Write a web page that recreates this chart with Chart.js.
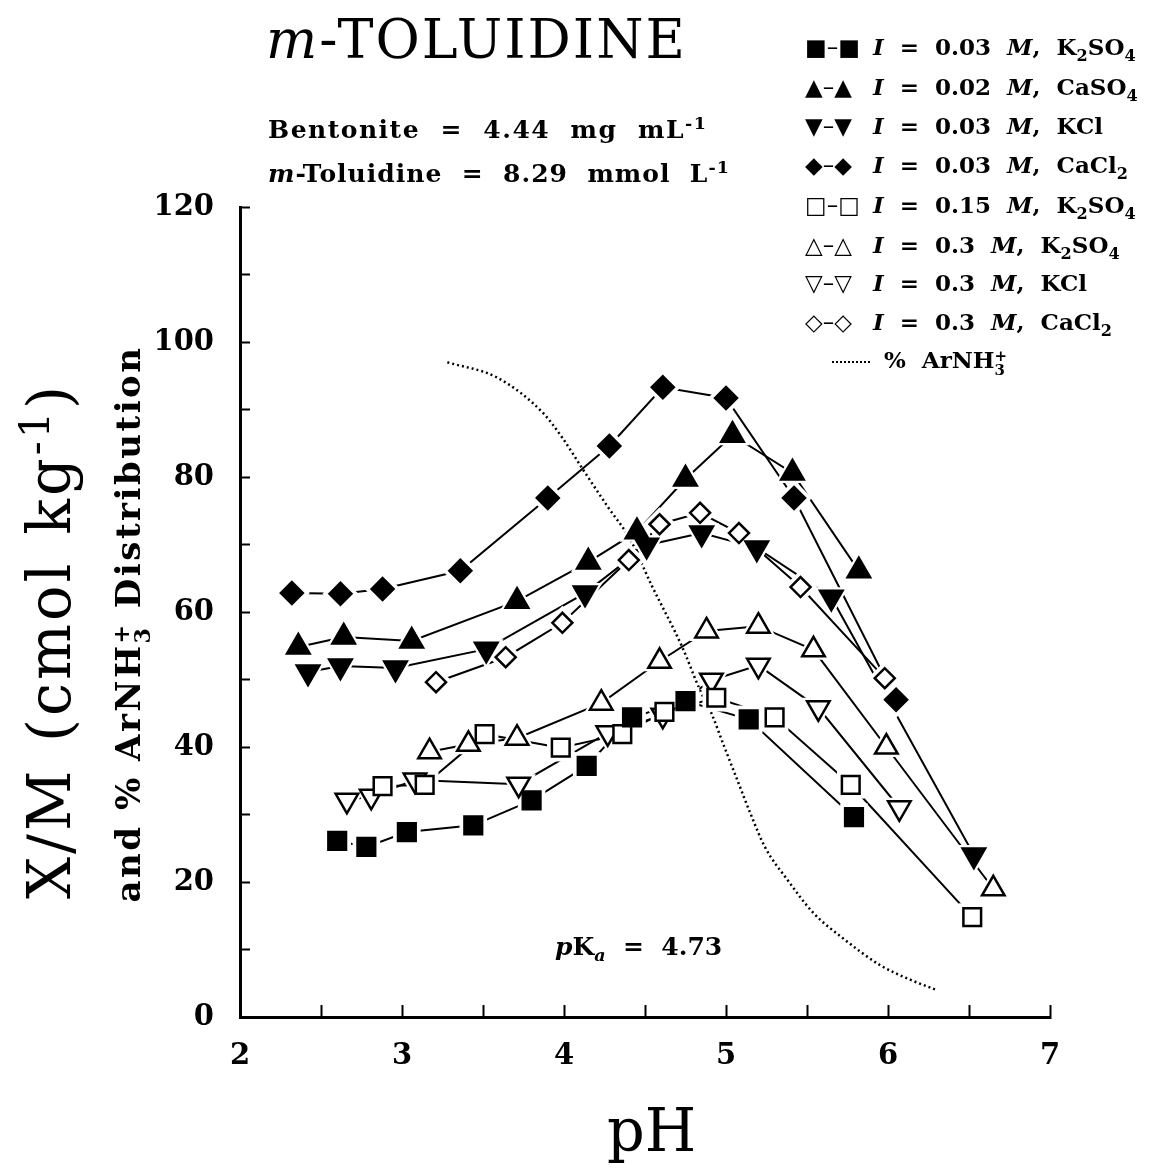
<!DOCTYPE html>
<html>
<head>
<meta charset="utf-8">
<script src="https://cdn.jsdelivr.net/npm/chart.js@4.4.1/dist/chart.umd.min.js"></script>
<style>
  html, body { margin: 0; padding: 0; background: #fff; }
  #wrap { position: relative; width: 1150px; height: 1172px; overflow: hidden; font-family: "DejaVu Serif", serif; color: #000; }
  #chartcanvas { position: absolute; left: 0; top: 0; }
  .txt { position: absolute; white-space: pre; line-height: 1; }
  .bold { font-weight: bold; }
  sub, sup { font-size: 0.7em; line-height: 0; }
  .leg { position: absolute; left: 805px; white-space: pre; font-weight: bold; font-size: 23px; line-height: 28px; height: 28px; }
  .sym { font-family: "DejaVu Sans", sans-serif; font-weight: normal; font-size: 23px; display: inline-block; width: 68px; }
  .rot { position: absolute; text-align: center; white-space: pre; transform: rotate(-90deg); }
  .dots { display: inline-block; width: 38px; border-top: 2px dotted #000; vertical-align: middle; margin: 0 14px 0 27px; }
  .stk { display: inline-block; vertical-align: -0.45em; font-size: 0.65em; line-height: 0.95em; text-align: left; }
  .stk span { display: block; }
</style>
</head>
<body>
<div id="wrap">
  <canvas id="chartcanvas" width="1150" height="1172"></canvas>

  <div class="txt" style="left:266px; top:13px; font-size:54px; letter-spacing:2px;"><i>m</i>-TOLUIDINE</div>
  <div class="txt bold" style="left:268px; top:117px; font-size:25px; letter-spacing:1.5px;">Bentonite  =  4.44  mg  mL<sup>-1</sup></div>
  <div class="txt bold" style="left:268px; top:161px; font-size:25px; letter-spacing:1px;"><i>m</i>-Toluidine  =  8.29  mmol  L<sup>-1</sup></div>

  <div class="leg" style="top:33px;"><span class="sym">■–■</span><i>I</i>  =  0.03  <i>M</i>,  K<sub>2</sub>SO<sub>4</sub></div>
  <div class="leg" style="top:73px;"><span class="sym">▲–▲</span><i>I</i>  =  0.02  <i>M</i>,  CaSO<sub>4</sub></div>
  <div class="leg" style="top:112px;"><span class="sym">▼–▼</span><i>I</i>  =  0.03  <i>M</i>,  KCl</div>
  <div class="leg" style="top:151px;"><span class="sym">◆–◆</span><i>I</i>  =  0.03  <i>M</i>,  CaCl<sub>2</sub></div>
  <div class="leg" style="top:191px;"><span class="sym">□–□</span><i>I</i>  =  0.15  <i>M</i>,  K<sub>2</sub>SO<sub>4</sub></div>
  <div class="leg" style="top:231px;"><span class="sym">△–△</span><i>I</i>  =  0.3  <i>M</i>,  K<sub>2</sub>SO<sub>4</sub></div>
  <div class="leg" style="top:269px;"><span class="sym">▽–▽</span><i>I</i>  =  0.3  <i>M</i>,  KCl</div>
  <div class="leg" style="top:308px;"><span class="sym">◇–◇</span><i>I</i>  =  0.3  <i>M</i>,  CaCl<sub>2</sub></div>
  <div class="leg" style="top:346px;"><span class="dots"></span>%  ArNH<span class="stk"><span>+</span><span>3</span></span></div>

  <div class="rot" style="left:-350px; top:606px; width:800px; height:70px; line-height:70px; font-size:59px; letter-spacing:3px; word-spacing:4px;">X/M (cmol kg<sup>-1</sup>)</div>
  <div class="rot bold" style="left:-272px; top:602px; width:800px; height:44px; line-height:44px; font-size:34px; letter-spacing:2.5px;">and % ArNH<span class="stk"><span>+</span><span>3</span></span> Distribution</div>

  <div class="txt" style="left:607px; top:1101px; font-size:59px;">pH</div>
  <div class="txt bold" style="left:555px; top:934px; font-size:25px;"><i>p</i>K<sub><i>a</i></sub>  =  4.73</div>
</div>

<script>
// pH / X/M values
const phK2SO4Low = [2.60, 2.78, 3.03, 3.44, 3.80, 4.14, 4.42, 4.75, 5.14, 5.79];
const xmK2SO4Low = [26.1, 25.2, 27.4, 28.4, 32.1, 37.2, 44.4, 46.8, 44.1, 29.6];
const phCaSO4 = [2.36, 2.64, 3.06, 3.71, 4.15, 4.45, 4.75, 5.04, 5.41, 5.82];
const xmCaSO4 = [54.8, 56.3, 55.7, 61.6, 67.4, 71.9, 79.7, 86.2, 80.6, 66.1];
const phKClLow = [2.42, 2.62, 2.96, 3.52, 4.13, 4.51, 4.85, 5.19, 5.65, 6.53];
const xmKClLow = [51.1, 52.0, 51.7, 54.5, 62.8, 69.9, 71.7, 69.5, 62.2, 24.0];
const phCaCl2Low = [2.32, 2.62, 2.88, 3.36, 3.90, 4.28, 4.61, 5.00, 5.42, 6.05];
const xmCaCl2Low = [62.8, 62.7, 63.4, 66.1, 76.9, 84.6, 93.3, 91.7, 76.9, 47.0];
const phK2SO4Mid = [2.88, 3.14, 3.51, 3.98, 4.36, 4.62, 4.94, 5.30, 5.77, 6.52];
const xmK2SO4Mid = [34.2, 34.4, 41.9, 39.9, 41.9, 45.2, 47.3, 44.4, 34.4, 14.8];
const phK2SO4High = [3.17, 3.41, 3.71, 4.23, 4.59, 4.88, 5.20, 5.54, 5.99, 6.65];
const xmK2SO4High = [39.3, 40.4, 41.3, 46.5, 52.7, 57.2, 57.9, 54.4, 40.0, 19.0];
const phKClHigh = [2.66, 2.81, 3.08, 3.72, 4.27, 4.61, 4.91, 5.20, 5.57, 6.07];
const xmKClHigh = [32.1, 32.7, 35.1, 34.5, 42.1, 44.7, 49.9, 52.1, 45.8, 31.0];
const phCaCl2High = [3.21, 3.64, 3.99, 4.40, 4.59, 4.84, 5.08, 5.46, 5.98];
const xmCaCl2High = [49.6, 53.3, 58.4, 67.7, 73.0, 74.7, 71.7, 63.7, 50.2];

// % ArNH3+ distribution curve (dotted)
const phArNH3 = [3.28, 3.59, 3.87, 3.99, 4.12, 4.27, 4.41, 4.54, 4.73, 4.84, 4.91, 4.99, 5.07, 5.15, 5.24, 5.38, 5.54, 5.72, 5.95, 6.14, 6.30];
const pctArNH3 = [97.0, 94.7, 89.5, 85.8, 81.0, 75.6, 70.7, 64.0, 54.8, 48.4, 45.0, 40.0, 35.1, 30.2, 25.2, 20.3, 15.4, 11.7, 7.7, 5.5, 4.0];

const xTicks = [2, 3, 4, 5, 6, 7];
const yTicks = [0, 20, 40, 60, 80, 100, 120];

const toXY = (xs, ys) => xs.map((x, i) => ({x: x, y: ys[i]}));

const series = [
  {xs: phK2SO4Low, ys: xmK2SO4Low, style: 'rect', r: 12.5, fill: '#000'},
  {xs: phCaSO4, ys: xmCaSO4, style: 'triangle', r: 13, fill: '#000'},
  {xs: phKClLow, ys: xmKClLow, style: 'triangle', r: 13, fill: '#000', rot: 180},
  {xs: phCaCl2Low, ys: xmCaCl2Low, style: 'rectRot', r: 11, fill: '#000'},
  {xs: phK2SO4Mid, ys: xmK2SO4Mid, style: 'rect', r: 12.5, fill: '#fff'},
  {xs: phK2SO4High, ys: xmK2SO4High, style: 'triangle', r: 13, fill: '#fff'},
  {xs: phKClHigh, ys: xmKClHigh, style: 'triangle', r: 13, fill: '#fff', rot: 180},
  {xs: phCaCl2High, ys: xmCaCl2High, style: 'rectRot', r: 10, fill: '#fff'},
];

const datasets = [];
series.forEach((s) => {
  const pts = toXY(s.xs, s.ys);
  // connecting line
  datasets.push({data: pts, showLine: true, borderColor: '#000', borderWidth: 2, pointRadius: 0, order: 3});
  // white halo so lines stop short of the symbol
  datasets.push({data: pts, showLine: false, pointStyle: s.style, pointRotation: s.rot || 0,
    pointRadius: s.r + 7, pointBackgroundColor: '#fff', pointBorderColor: '#fff', pointBorderWidth: 0, order: 2});
  // the symbol itself
  datasets.push({data: pts, showLine: false, pointStyle: s.style, pointRotation: s.rot || 0,
    pointRadius: s.r, pointBackgroundColor: s.fill, pointBorderColor: '#000', pointBorderWidth: 2.5, order: 1});
});
datasets.push({data: toXY(phArNH3, pctArNH3), showLine: true, borderColor: '#000', borderWidth: 2.5,
  borderDash: [2, 3], cubicInterpolationMode: 'monotone', pointRadius: 0, order: 4});

const tickFont = {family: 'DejaVu Serif', size: 29, weight: 'bold'};

const canvas = document.getElementById('chartcanvas');
const ctx = canvas.getContext('2d');
window.chart = new Chart(ctx, {
  type: 'scatter',
  data: {datasets: datasets},
  options: {
    responsive: false,
    animation: false,
    devicePixelRatio: 1,
    layout: {padding: {left: 0, right: 100, top: 207, bottom: 0}},
    plugins: {legend: {display: false}, tooltip: {enabled: false}},
    scales: {
      x: {
        type: 'linear', min: 2, max: 7,
        ticks: {stepSize: 0.5, autoSkip: false, maxRotation: 0, padding: 34, color: '#000', font: tickFont,
          callback: (v) => xTicks.includes(v) ? String(v) : ''},
        grid: {drawOnChartArea: false, drawTicks: true, tickLength: -12, tickWidth: 2, tickColor: '#000'},
        border: {display: true, color: '#000', width: 3},
        afterFit: (s) => { s.height = 155; }
      },
      y: {
        type: 'linear', min: 0, max: 120,
        ticks: {stepSize: 10, autoSkip: false, padding: 36, color: '#000', font: tickFont,
          callback: (v) => yTicks.includes(v) ? String(v) : ''},
        grid: {drawOnChartArea: false, drawTicks: true, tickLength: -10, tickWidth: 2, tickColor: '#000'},
        border: {display: true, color: '#000', width: 3},
        afterFit: (s) => { s.width = 240; }
      }
    }
  }
});
</script>
</body>
</html>
